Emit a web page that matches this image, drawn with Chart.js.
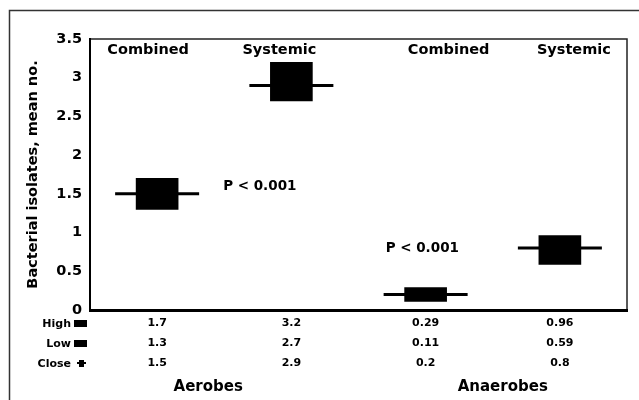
<!DOCTYPE html>
<html><head><meta charset="utf-8">
<script src="https://cdn.jsdelivr.net/npm/chart.js@4/dist/chart.umd.min.js"></script>
<style>
html,body{margin:0;padding:0;background:#fff;overflow:hidden}
canvas{display:block}
</style></head><body>
<canvas id="c" width="639" height="400"></canvas>
<script>
const categories = ['Combined', 'Systemic', 'Combined', 'Systemic'];
const groups = ['Aerobes', 'Anaerobes'];
const rowLabels = ['High', 'Low', 'Close'];
const high = [1.7, 3.2, 0.29, 0.96];
const low = [1.3, 2.7, 0.11, 0.59];
const close = [1.5, 2.9, 0.2, 0.8];
const yTicks = [0, 0.5, 1, 1.5, 2, 2.5, 3, 3.5];
const pLabels = ['P < 0.001', 'P < 0.001'];
const yTitle = 'Bacterial isolates, mean no.';

const FONT = '"DejaVu Sans", sans-serif';

const decor = {
  id: 'decor',
  beforeDraw(chart) {
    const ctx = chart.ctx;
    ctx.save();
    ctx.fillStyle = '#fff';
    ctx.fillRect(0, 0, chart.width, chart.height);
    ctx.strokeStyle = '#333';
    ctx.lineWidth = 1.5;
    ctx.strokeRect(9.5, 10.5, 700, 500);
    const a = chart.chartArea;
    ctx.strokeStyle = '#222';
    ctx.lineWidth = 1.5;
    ctx.strokeRect(a.left, a.top, a.right - a.left, a.bottom - a.top);
    ctx.restore();
  },
  afterDraw(chart) {
    const ctx = chart.ctx;
    const xs = chart.scales.x, ys = chart.scales.y;
    const a = chart.chartArea;
    ctx.save();
    ctx.fillStyle = '#000';
    ctx.textBaseline = 'middle';
    // top category labels
    ctx.font = 'bold 14.5px ' + FONT;
    ctx.textAlign = 'center';
    const topOff = [-9, -12, 23, 14];
    categories.forEach((c, i) => {
      ctx.fillText(c, xs.getPixelForValue(i) + topOff[i], a.top + 11);
    });
    // P labels
    ctx.font = 'bold 13.5px ' + FONT;
    ctx.textAlign = 'left';
    ctx.fillText(pLabels[0], xs.getPixelForValue(0) + 66, ys.getPixelForValue(1.6));
    ctx.fillText(pLabels[1], xs.getPixelForValue(2) - 40, ys.getPixelForValue(0.8));
    // data table
    const rows = [high, low, close];
    const rowY = [a.bottom + 13, a.bottom + 33, a.bottom + 53];
    ctx.font = 'bold 11px ' + FONT;
    ctx.textAlign = 'center';
    rows.forEach((r, ri) => {
      r.forEach((v, i) => {
        ctx.fillText(String(v), xs.getPixelForValue(i), rowY[ri]);
      });
    });
    // row labels & markers
    ctx.textAlign = 'right';
    rowLabels.forEach((l, ri) => {
      ctx.fillText(l, 71, rowY[ri] + 1);
    });
    ctx.fillRect(74, rowY[0] - 3, 13, 7);
    ctx.fillRect(74, rowY[1] - 3, 13, 7);
    ctx.fillRect(79, rowY[2] - 3, 5, 7);
    ctx.fillRect(77, rowY[2] - 1, 9, 2);
    // group labels
    ctx.font = 'bold 15px ' + FONT;
    ctx.textAlign = 'center';
    ctx.fillText(groups[0], (xs.getPixelForValue(0) + xs.getPixelForValue(1)) / 2 - 16, a.bottom + 77);
    ctx.fillText(groups[1], (xs.getPixelForValue(2) + xs.getPixelForValue(3)) / 2 + 10, a.bottom + 77);
    ctx.restore();
  }
};

new Chart(document.getElementById('c'), {
  type: 'bar',
  data: {
    labels: categories,
    datasets: [
      {
        type: 'line',
        data: close,
        showLine: false,
        clip: false,
        pointStyle: 'line',
        pointRadius: 42,
        pointHoverRadius: 42,
        pointBorderWidth: 3,
        borderColor: '#000',
        backgroundColor: '#000',
        order: 2
      },
      {
        type: 'bar',
        data: low.map((l, i) => [l, high[i]]),
        backgroundColor: '#000',
        borderWidth: 0,
        barThickness: 42,
        order: 1
      }
    ]
  },
  options: {
    responsive: false,
    animation: false,
    events: [],
    layout: { autoPadding: false, padding: { left: 23, top: 39, right: 12, bottom: 0 } },
    plugins: { legend: { display: false }, tooltip: { enabled: false } },
    scales: {
      x: {
        grid: { display: false, drawTicks: false },
        border: { display: true, color: '#000', width: 3 },
        ticks: { display: false },
        afterFit(s) { s.height = 90; }
      },
      y: {
        min: 0, max: 3.5,
        afterBuildTicks(s) { s.ticks = yTicks.map(v => ({ value: v })); },
        grid: { display: false, drawTicks: false },
        border: { display: true, color: '#000', width: 2 },
        ticks: { color: '#000', padding: 8, font: { family: FONT, size: 14.5, weight: 'bold' }, callback: v => String(v) },
        title: { display: true, text: yTitle, color: '#000', padding: { top: 2, bottom: 0 }, font: { family: FONT, size: 14.5, weight: 'bold' } },
        afterFit(s) { s.width = 67; }
      }
    }
  },
  plugins: [decor]
});
</script>
</body></html>
